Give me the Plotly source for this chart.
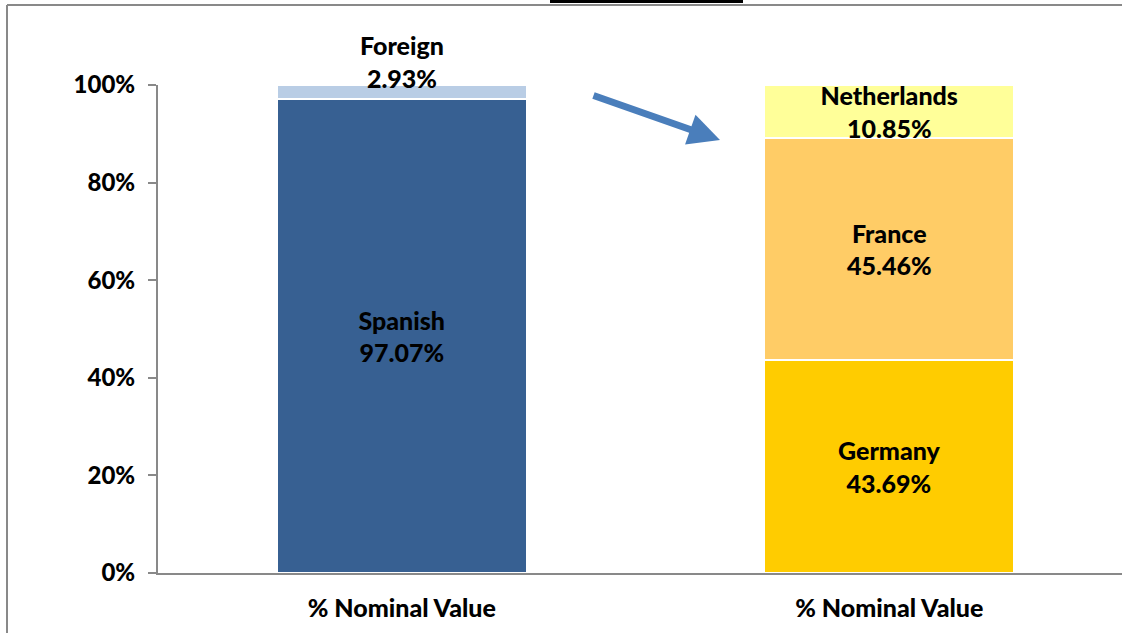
import plotly.graph_objects as go

# Data
positions = [0, 1]
position_labels = ['% Nominal Value', '% Nominal Value']

spanish = [97.07]
foreign = [2.93]
germany = [43.69]
france = [45.46]
netherlands = [10.85]

y_ticks = [0, 20, 40, 60, 80, 100]
y_tick_labels = ['0%', '20%', '40%', '60%', '80%', '100%']

font_family = "Lato, 'Open Sans', sans-serif"
heavy = 900
bar_width = 0.513
outline = dict(color='white', width=2)

# the source chart is cut off on the right, so the page is a bit wider than the window
fig_width = 1134
plot_left = 158
plot_w = fig_width - plot_left
plot_h = 488


def segment(name, x, vals, color, show_text=True):
    return go.Bar(
        x=x,
        y=[v / 100 for v in vals],
        name=name,
        width=bar_width,
        marker=dict(color=color, line=outline),
        text=[f"{name}<br>{v:.2f}%" for v in vals] if show_text else None,
        textposition='inside',
        insidetextanchor='middle',
        constraintext='none',
        textfont=dict(family=font_family, size=25, color='black', weight=heavy),
        hoverinfo='skip',
    )


fig = go.Figure()
fig.add_trace(segment('Spanish', [positions[0]], spanish, '#376092'))
fig.add_trace(segment('Foreign', [positions[0]], foreign, '#B9CDE5', show_text=False))
fig.add_trace(segment('Germany', [positions[1]], germany, '#FFCC00'))
fig.add_trace(segment('France', [positions[1]], france, '#FFCC66'))
fig.add_trace(segment('Netherlands', [positions[1]], netherlands, '#FFFF99'))

# the thin Foreign slice gets its label just above the stack
fig.add_annotation(
    x=positions[0], y=(spanish[0] + foreign[0]) / 100,
    text=f"Foreign<br>{foreign[0]:.2f}%",
    showarrow=False, yanchor='bottom', yshift=-10,
    font=dict(family=font_family, size=25, color='black', weight=heavy),
)

fig.update_layout(
    width=fig_width,
    height=633,
    barmode='stack',
    showlegend=False,
    plot_bgcolor='white',
    paper_bgcolor='white',
    margin=dict(l=plot_left, r=0, t=85, b=60),
    font=dict(family=font_family, size=24, color='black'),
)

fig.update_xaxes(
    range=[-0.5, -0.5 + plot_w / 487.5],
    tickvals=positions,
    ticktext=position_labels,
    showgrid=False,
    zeroline=False,
    showline=True,
    linecolor='#898989',
    linewidth=2,
    ticks='',
    ticklabelstandoff=12,
    tickfont=dict(family=font_family, size=25, color='black', weight=heavy),
)

fig.update_yaxes(
    range=[0, 1],
    tickvals=[t / 100 for t in y_ticks],
    ticktext=y_tick_labels,
    showgrid=False,
    zeroline=False,
    showline=True,
    linecolor='#898989',
    linewidth=2,
    ticks='outside',
    ticklen=8,
    tickwidth=2,
    tickcolor='#898989',
    ticklabelstandoff=8,
    tickfont=dict(family=font_family, size=24, color='black', weight=heavy),
)

# chart border (top and left edges only are in view) and cut-off title box
border = dict(color='#898989', width=2)
left_edge = (7 - plot_left) / plot_w
top_edge = (573 - 5) / plot_h
fig.add_shape(type='line', xref='paper', yref='paper',
              x0=left_edge, x1=1.0, y0=top_edge, y1=top_edge, line=border)
fig.add_shape(type='line', xref='paper', yref='paper',
              x0=left_edge, x1=left_edge, y0=-0.15, y1=top_edge, line=border)
fig.add_shape(type='rect', xref='paper', yref='paper',
              x0=(550 - plot_left) / plot_w, x1=(743 - plot_left) / plot_w,
              y0=(573 - 3) / plot_h, y1=1.2,
              line=dict(width=0), fillcolor='black')

# arrow between the two bars
fig.add_annotation(
    xref='paper', yref='paper', axref='pixel', ayref='pixel',
    x=(720 - plot_left) / plot_w, y=(573 - 140) / plot_h,
    ax=-128, ay=-45,
    text='', showarrow=True,
    arrowhead=2, arrowsize=0.9, arrowwidth=7, arrowcolor='#4A7EBB',
)

fig.write_html("out.html", config={'displayModeBar': False},
               post_script="document.body.style.margin='0';"
                           "document.body.style.overflow='hidden';")
